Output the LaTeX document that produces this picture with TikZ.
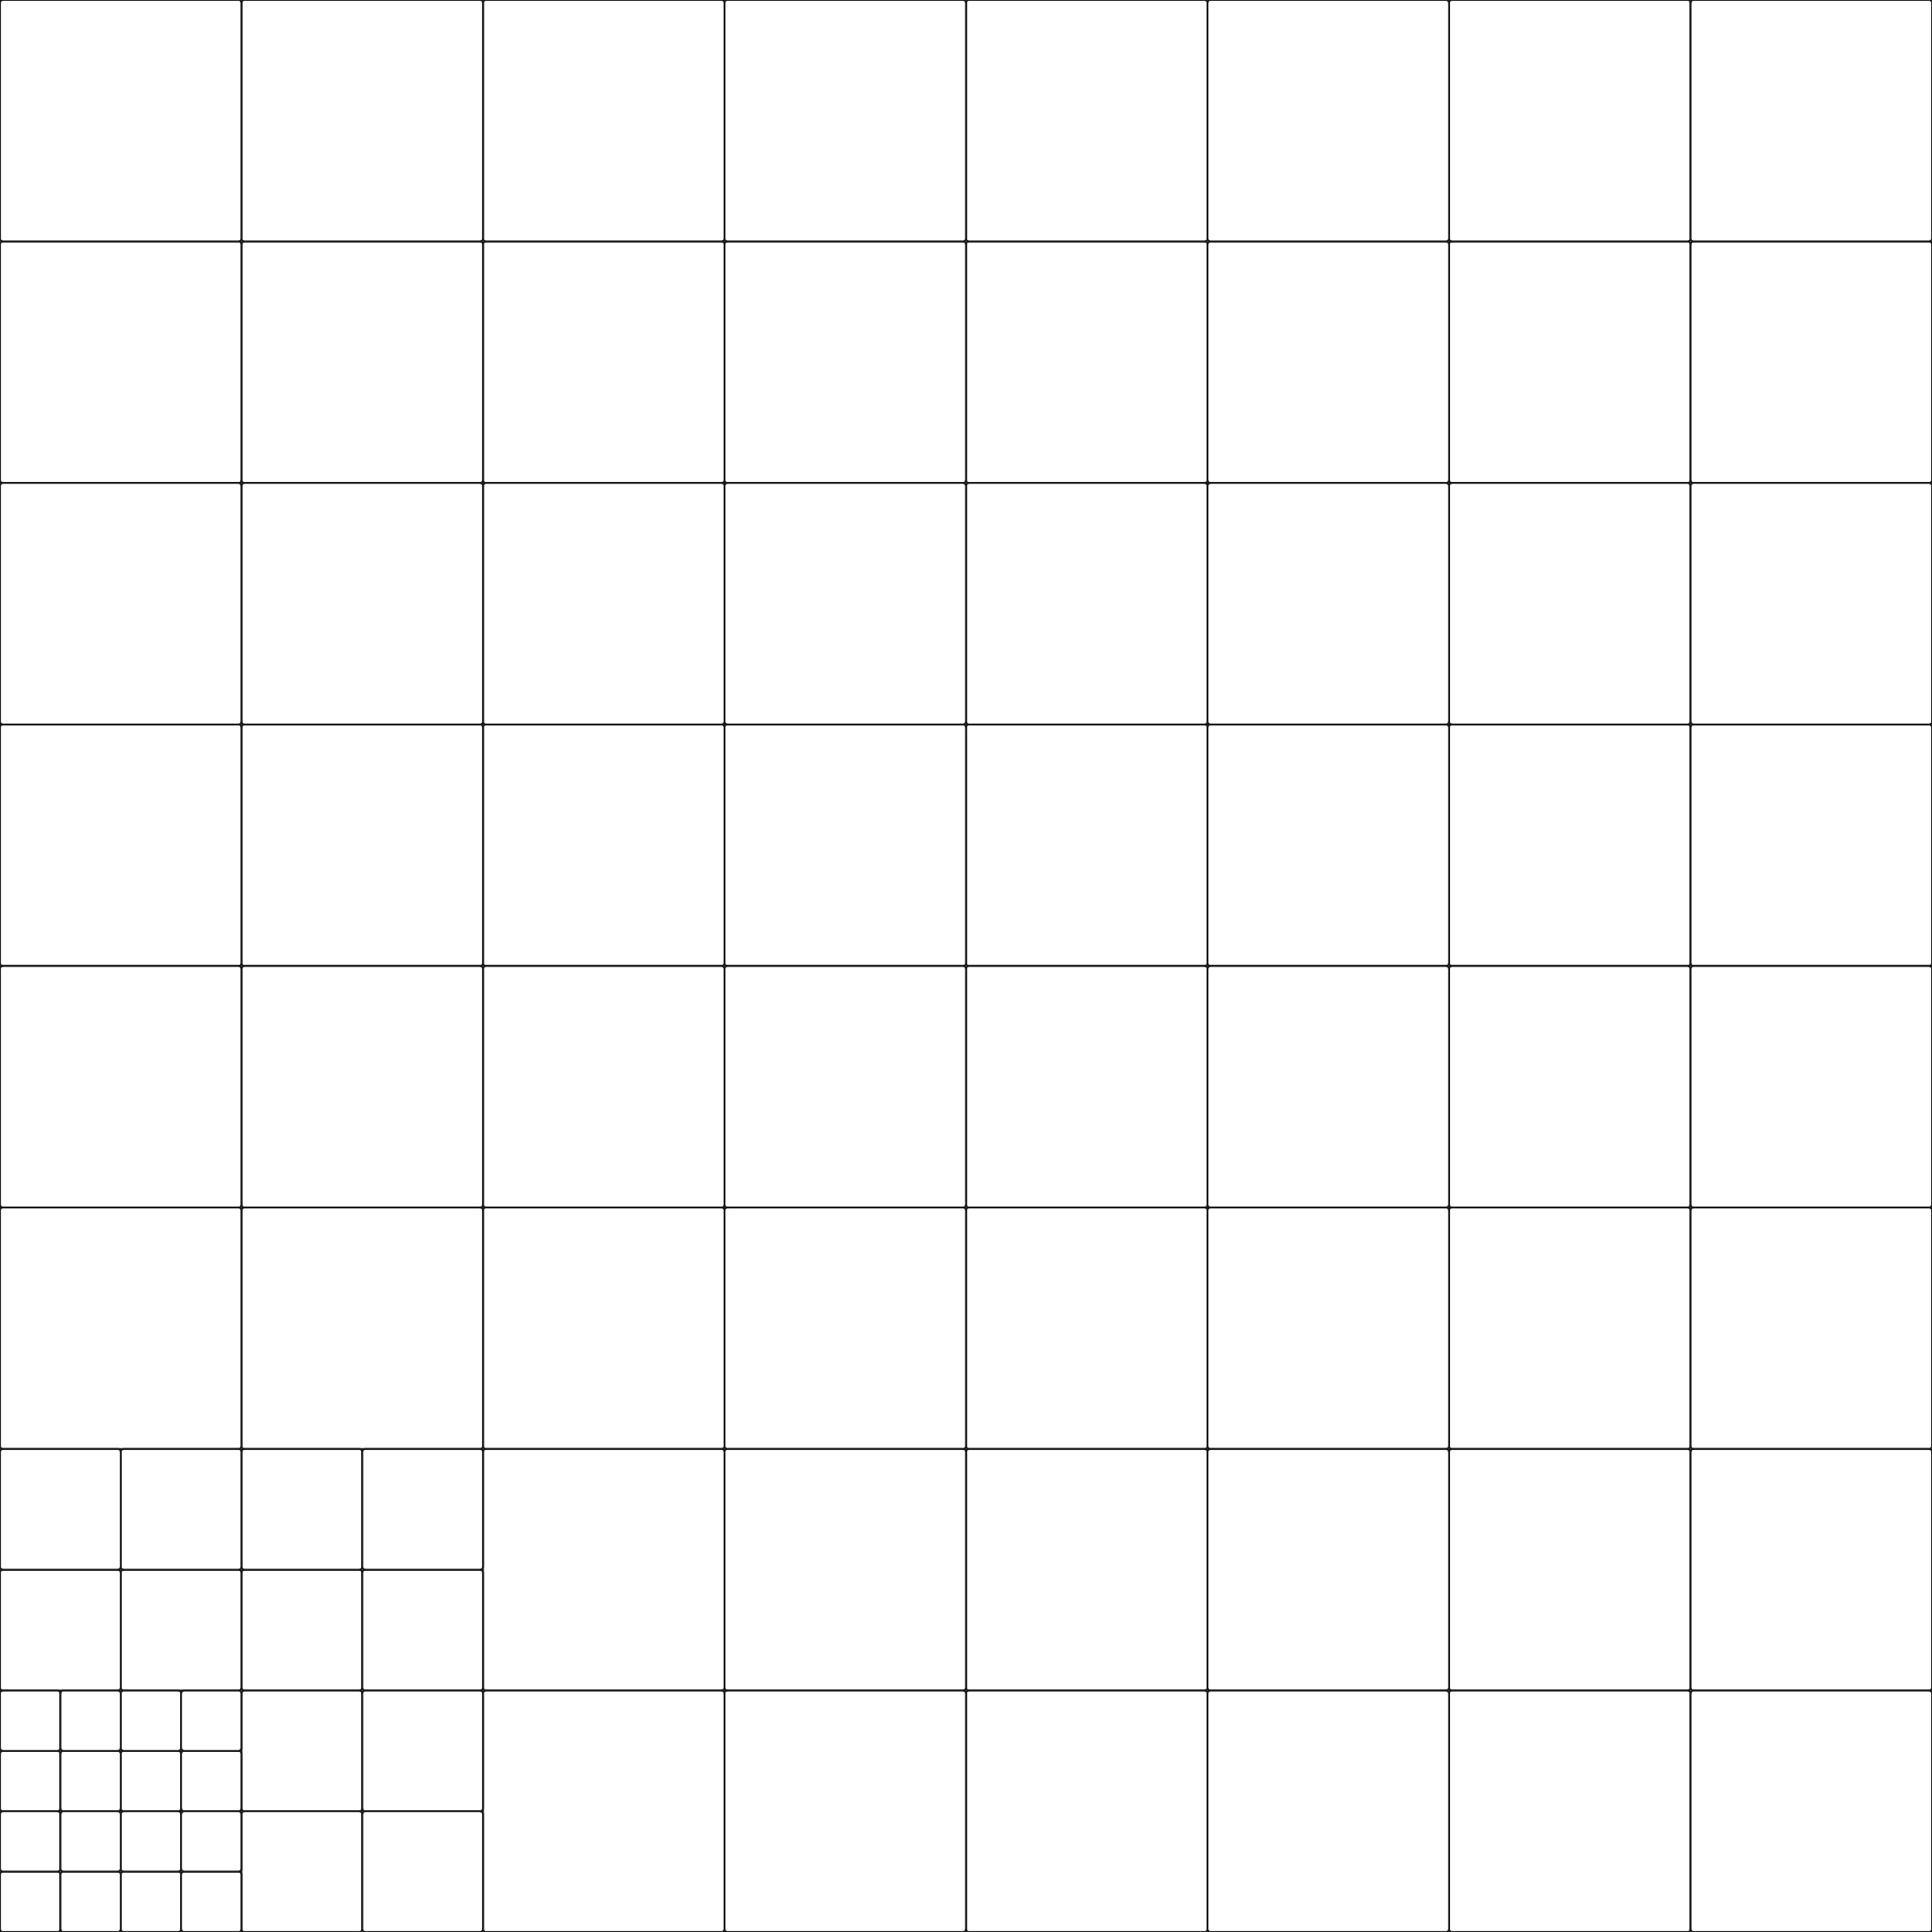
\documentclass[tikz,border=0pt]{standalone}
\begin{document}
\begin{tikzpicture}[cell/.style={draw=black!90, rounded corners=0.6pt}]
  \useasboundingbox (0,0) rectangle (16,16);
  % full cells
  \foreach \x in {2,...,7}
    \foreach \y in {0,...,7}
      \draw[cell] (2*\x,2*\y) rectangle ++(2,2);
  \foreach \x in {0,1}
    \foreach \y in {2,...,7}
      \draw[cell] (2*\x,2*\y) rectangle ++(2,2);
  % quartered cells
  \foreach \x/\y in {0/1,1/1,1/0}
    \foreach \a in {0,1}
      \foreach \b in {0,1}
        \draw[cell] (2*\x+\a,2*\y+\b) rectangle ++(1,1);
  % corner cell, split twice
  \foreach \a in {0,...,3}
    \foreach \b in {0,...,3}
      \draw[cell] (0.5*\a,0.5*\b) rectangle ++(0.5,0.5);
\end{tikzpicture}
\end{document}
